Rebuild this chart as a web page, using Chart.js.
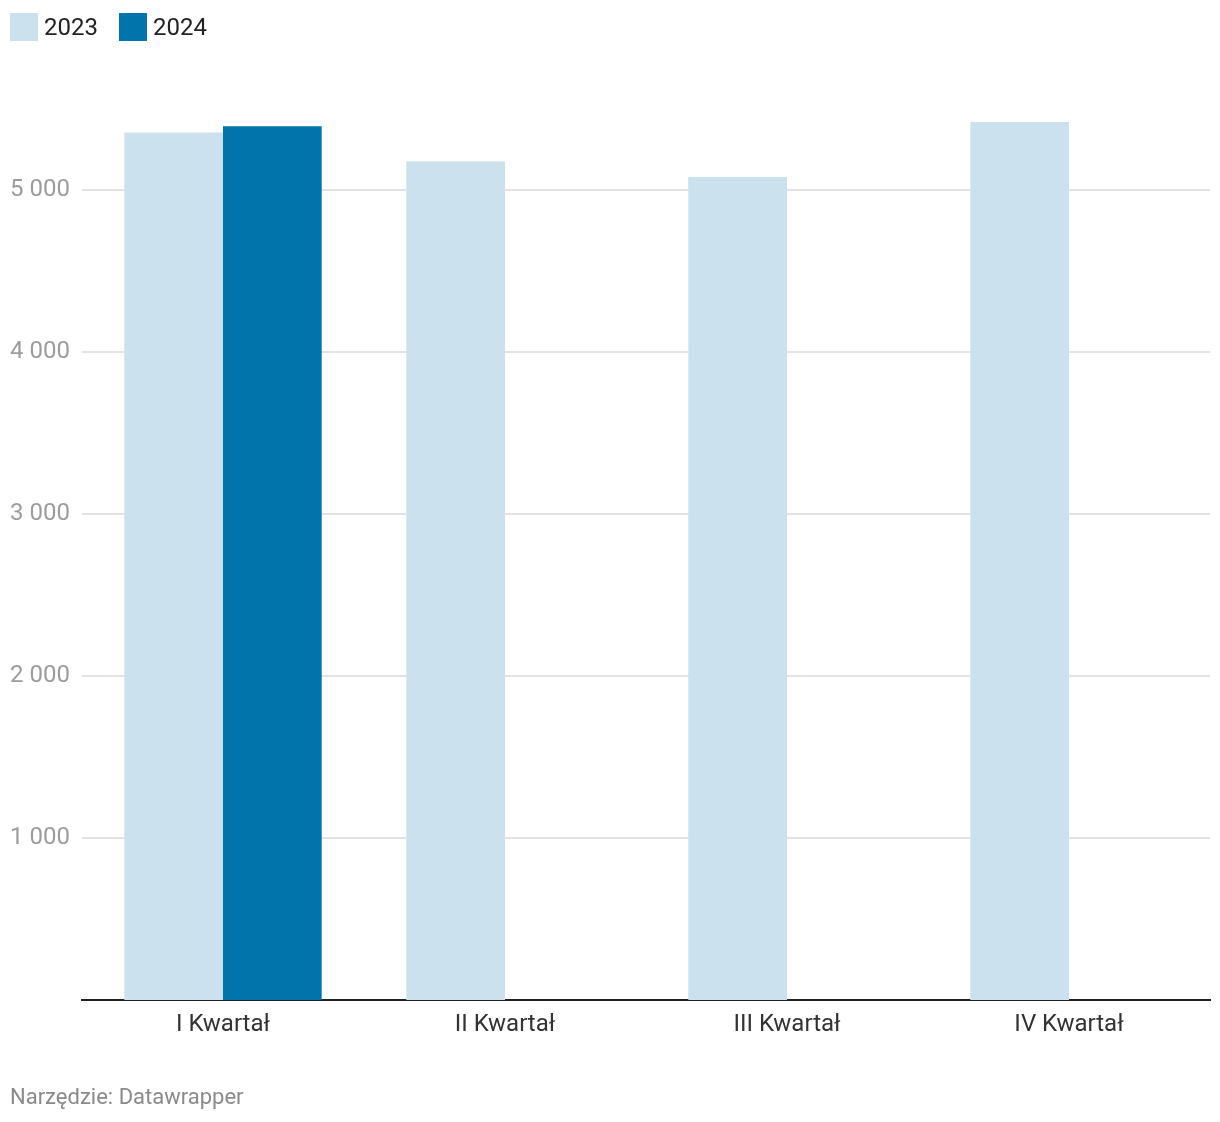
<!DOCTYPE html>
<html>
<head>
<meta charset="utf-8">
<script src="https://cdn.jsdelivr.net/npm/chart.js@4"></script>
<style>
  body { margin: 0; background: #fff; font-family: Roboto, sans-serif; }
  #wrap { position: relative; width: 1220px; height: 1122px; }
  #chart { position: absolute; left: 0; top: 0; }
  .legend { position: absolute; top: 13px; left: 10px; display: flex; font-size: 24px; color: #222; }
  .legend-item { display: flex; align-items: center; margin-right: 21px; height: 28px; }
  .legend-box { width: 28px; height: 28px; margin-right: 6px; }
  .footer { position: absolute; left: 10px; top: 1084px; font-size: 22px; color: #8a8a8a; }
</style>
</head>
<body>
<div id="wrap">
  <canvas id="chart" width="1220" height="1122"></canvas>
  <div class="legend" id="legend"></div>
  <div class="footer">Narzędzie: Datawrapper</div>
</div>
<script>
// data
const quarters   = ['I Kwartał', 'II Kwartał', 'III Kwartał', 'IV Kwartał'];
const years      = ['2023', '2024'];
const values2023 = [5357, 5180, 5082, 5422];
const values2024 = [5396, null, null, null];
const yTicks     = [1000, 2000, 3000, 4000, 5000];
const colors     = ['#cbe2ee', '#0174ab'];

const fmt = v => String(v).replace(/\B(?=(\d{3})+(?!\d))/g, ' ');

const chart = new Chart(document.getElementById('chart'), {
  type: 'bar',
  data: {
    labels: quarters,
    datasets: [
      { label: years[0], data: values2023, backgroundColor: colors[0] },
      { label: years[1], data: values2024, backgroundColor: colors[1] }
    ]
  },
  options: {
    responsive: false,
    animation: false,
    categoryPercentage: 0.7,
    barPercentage: 1,
    layout: { padding: { left: 10, right: 10, top: 77, bottom: 72 } },
    plugins: { legend: { display: false }, tooltip: { enabled: false } },
    scales: {
      x: {
        grid: { display: false, drawTicks: false },
        border: { color: '#222', width: 2 },
        ticks: { color: '#333', font: { family: 'Roboto', size: 24 }, padding: 11 },
        afterFit: s => { s.height = 50; }
      },
      y: {
        min: 0, max: 5700,
        border: { display: false },
        grid: { color: '#e3e3e3', lineWidth: 2, drawTicks: false },
        ticks: {
          color: '#9c9c9c', font: { family: 'Roboto', size: 24 },
          crossAlign: 'far', padding: 0,
          callback: v => fmt(v)
        },
        afterBuildTicks: s => { s.ticks = yTicks.map(v => ({ value: v })); },
        afterFit: s => { s.width = 72; }
      }
    }
  }
});

// legend from the datasets
const legendEl = document.getElementById('legend');
chart.data.datasets.forEach(ds => {
  const item = document.createElement('div');
  item.className = 'legend-item';
  item.innerHTML = `<div class="legend-box" style="background:${ds.backgroundColor}"></div><span>${ds.label}</span>`;
  legendEl.appendChild(item);
});
</script>
</body>
</html>
